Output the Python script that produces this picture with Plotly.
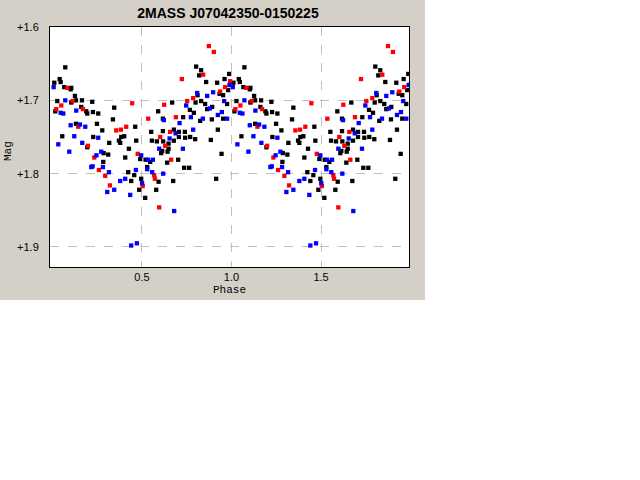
import plotly.graph_objects as go

TITLE = "2MASS J07042350-0150225"

black_phase = [0.0722, 0.0410, 0.0466, 0.0109, 0.0666, 0.1023, 0.1057, 0.1263, 0.1319, 0.1057,
               0.0276, 0.1654, 0.2228, 0.0165, 0.1615, 0.1893, 0.1949, 0.2267, 0.2563, 0.3455,
               0.3383, 0.2490, 0.1319, 0.2786, 0.4626, 0.4013, 0.3846, 0.3717, 0.3790, 0.4682,
               0.0555, 0.2284, 0.3176, 0.1949, 0.4275, 0.2864, 0.3120, 0.4069, 0.4905, 0.2842,
               0.4236, 0.4571, 0.4961, 0.4403, 0.4849, 0.8028, 0.8307, 0.8196, 0.8586, 0.9200,
               0.9612, 0.9869, 0.9813, 0.9333, 0.9534, 0.8106, 0.8307, 0.7995, 0.8530, 0.9757,
               0.6690, 0.7677, 0.7900, 0.8642, 0.8921, 0.5909, 0.6171, 0.7303, 0.8251, 0.8904,
               0.9534, 0.5519, 0.6171, 0.6785, 0.7064, 0.7398, 0.9239, 0.6785, 0.7064, 0.7415,
               0.7694, 0.7973, 0.8848, 0.5558, 0.5837, 0.6188, 0.6489, 0.6132, 0.6489, 0.6433,
               0.6076, 0.9445, 0.5206, 0.5463, 0.7025, 0.6411, 0.5296, 0.7359, 0.7638, 0.5931,
               0.6746, 0.9144, 0.5798, 0.5184]
black_mag = [1.655, 1.671, 1.675, 1.676, 1.682, 1.685, 1.683, 1.694, 1.700, 1.703,
             1.701, 1.700, 1.702, 1.715, 1.709, 1.715, 1.718, 1.716, 1.718, 1.710,
             1.726, 1.732, 1.732, 1.741, 1.736, 1.749, 1.750, 1.755, 1.758, 1.755,
             1.749, 1.750, 1.758, 1.764, 1.766, 1.772, 1.774, 1.778, 1.780, 1.784,
             1.798, 1.802, 1.807, 1.810, 1.822, 1.654, 1.659, 1.666, 1.675, 1.676,
             1.671, 1.664, 1.686, 1.691, 1.693, 1.693, 1.701, 1.703, 1.705, 1.705,
             1.703, 1.713, 1.717, 1.712, 1.709, 1.715, 1.725, 1.723, 1.728, 1.726,
             1.725, 1.743, 1.742, 1.740, 1.743, 1.743, 1.740, 1.755, 1.750, 1.751,
             1.750, 1.753, 1.754, 1.755, 1.756, 1.756, 1.759, 1.769, 1.766, 1.770,
             1.772, 1.773, 1.781, 1.784, 1.781, 1.785, 1.791, 1.792, 1.792, 1.811,
             1.810, 1.807, 1.822, 1.833]

red_phase = [0.0834, 0.1135, 0.4459, 0.0499, 0.0220, 0.1709, 0.1447, 0.3567, 0.3829, 0.4124,
             0.1988, 0.4766, 0.2340, 0.2602, 0.2953, 0.3215, 0.5045, 0.8737, 0.9016, 0.8419,
             0.7231, 0.9925, 0.9646, 0.9367, 0.7861, 0.7527, 0.6244, 0.5351, 0.6896, 0.6578,
             0.6021, 0.6300, 0.6634, 0.5686, 0.5725, 0.5965]
red_mag = [1.683, 1.701, 1.704, 1.707, 1.712, 1.712, 1.736, 1.741, 1.740, 1.736,
           1.762, 1.773, 1.778, 1.795, 1.803, 1.816, 1.817, 1.626, 1.634, 1.665,
           1.671, 1.674, 1.682, 1.688, 1.697, 1.701, 1.706, 1.725, 1.723, 1.743,
           1.750, 1.762, 1.781, 1.802, 1.807, 1.846]

blue_phase = [0.0075, 0.0722, 0.0466, 0.0611, 0.1336, 0.1023, 0.1542, 0.1838, 0.1224, 0.2563,
              0.0332, 0.1670, 0.0945, 0.2730, 0.2462, 0.4961, 0.2172, 0.2250, 0.2825, 0.3160,
              0.4665, 0.4069, 0.3790, 0.5011, 0.3455, 0.3065, 0.4347, 0.4721, 0.4403, 0.9891,
              0.8977, 0.8084, 0.8642, 0.9590, 0.7471, 0.8793, 0.9462, 0.9239, 0.6227, 0.7733,
              0.8402, 0.9757, 0.7103, 0.6880, 0.7861, 0.6545, 0.5965, 0.7287, 0.5335, 0.5613,
              0.5296, 0.5574, 0.6188, 0.6801]
blue_mag = [1.682, 1.700, 1.717, 1.718, 1.714, 1.734, 1.733, 1.736, 1.749, 1.751,
            1.760, 1.758, 1.770, 1.770, 1.775, 1.775, 1.791, 1.790, 1.791, 1.798,
            1.795, 1.807, 1.810, 1.813, 1.822, 1.825, 1.829, 1.895, 1.898, 1.679,
            1.689, 1.690, 1.694, 1.701, 1.707, 1.711, 1.716, 1.720, 1.727, 1.723,
            1.725, 1.725, 1.731, 1.745, 1.740, 1.752, 1.766, 1.766, 1.781, 1.781,
            1.794, 1.798, 1.800, 1.851]

x_ticks = [0.5, 1.0, 1.5]
x_labels = ["0.5", "1.0", "1.5"]
y_ticks = [1.6, 1.7, 1.8, 1.9]
y_labels = ["+1.6", "+1.7", "+1.8", "+1.9"]

X_MIN, X_MAX = -0.013, 1.991
Y_TOP, Y_BOT = 1.6, 1.9273


def two_cycles(ph, mg):
    xs, ys = [], []
    for shift in (0.0, 1.0):
        for p, m in zip(ph, mg):
            if X_MIN <= p + shift <= X_MAX:
                xs.append(p + shift)
                ys.append(m)
    return xs, ys


fig = go.Figure()
for ph, mg, col in [(black_phase, black_mag, "#000000"),
                    (red_phase, red_mag, "#ff0000"),
                    (blue_phase, blue_mag, "#0000ff")]:
    xs, ys = two_cycles(ph, mg)
    fig.add_trace(go.Scatter(x=xs, y=ys, mode="markers", cliponaxis=True,
                             marker=dict(symbol="square", size=4.3, color=col,
                                         line=dict(width=0)),
                             hoverinfo="skip", showlegend=False))

L, R, T, B = 50, 231, 27, 213
W, H = 640, 480
pw, ph_ = W - L - R, H - T - B

# gray window background (425x300 px) and white plot area
fig.add_shape(type="rect", xref="paper", yref="paper", layer="below",
              x0=-L / pw, x1=(425 - L) / pw, y0=(T + ph_ - 300) / ph_, y1=(T + ph_) / ph_,
              fillcolor="#d4d0c8", line=dict(width=0))
fig.add_shape(type="rect", xref="paper", yref="paper", layer="below",
              x0=0, x1=1, y0=0, y1=1, fillcolor="#ffffff", line=dict(width=0))

axis_common = dict(showline=True, linecolor="#000000", linewidth=1, mirror=True,
                   showgrid=True, gridcolor="#c0c0c0", griddash="dash", gridwidth=1,
                   zeroline=False, ticks="", ticklen=0, fixedrange=True,
                   tickfont=dict(family="Liberation Sans, Arial, sans-serif", size=11, color="#000000"))

fig.update_xaxes(range=[X_MIN, X_MAX], tickvals=x_ticks, ticktext=x_labels,
                 ticklabelstandoff=0, **axis_common)
fig.update_yaxes(range=[Y_BOT, Y_TOP], tickvals=y_ticks, ticktext=y_labels,
                 ticklabelstandoff=8, **axis_common)

fig.add_annotation(text="Phase", xref="paper", yref="paper", x=0.5, y=-(290 - T - ph_) / ph_,
                   showarrow=False, xanchor="center", yanchor="middle",
                   font=dict(family="Liberation Mono, DejaVu Sans Mono, monospace", size=11, color="#000000"))
fig.add_annotation(text="Mag", xref="paper", yref="paper", x=(8 - L) / pw, y=(T + ph_ - 151) / ph_,
                   showarrow=False, textangle=-90, xanchor="center", yanchor="middle",
                   font=dict(family="Liberation Mono, DejaVu Sans Mono, monospace", size=11, color="#000000"))

fig.update_layout(
    width=W, height=H,
    margin=dict(l=L, r=R, t=T, b=B, pad=0),
    paper_bgcolor="#ffffff", plot_bgcolor="#ffffff",
    title=dict(text="<b>" + TITLE + "</b>", x=(228) / W, xanchor="center",
               y=1 - 13.5 / H, yanchor="middle",
               font=dict(family="Liberation Sans, Arial, sans-serif", size=14, color="#000000")),
    showlegend=False,
)

fig.write_html("out.html", config={"displayModeBar": False, "staticPlot": True},
               post_script="document.body.style.margin='0';document.body.style.overflow='hidden';")
